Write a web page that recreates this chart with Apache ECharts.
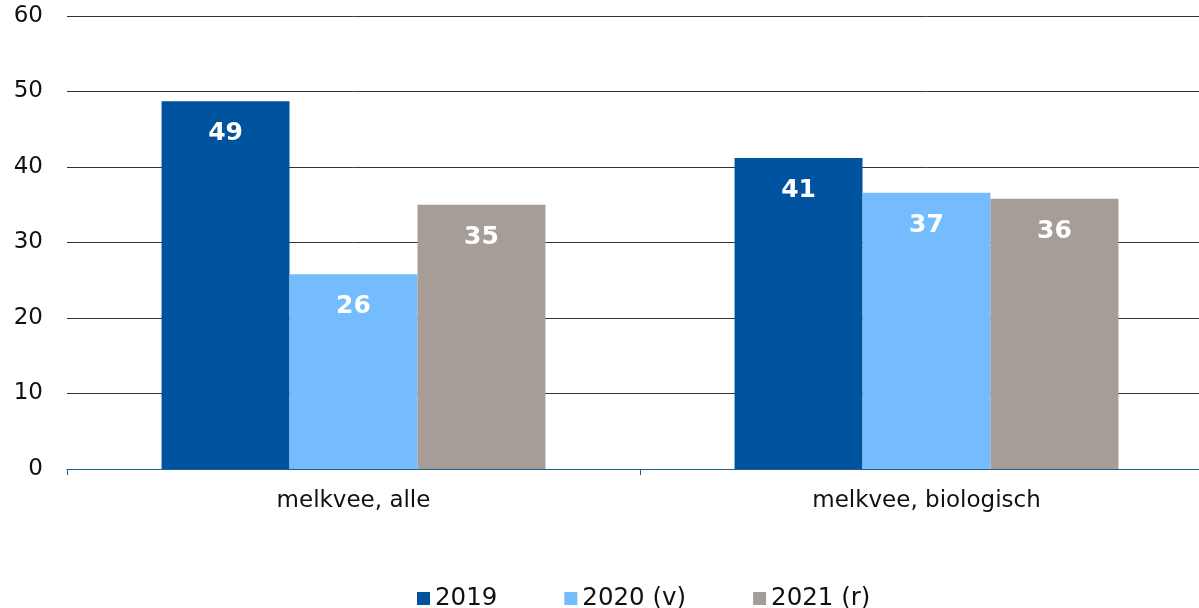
<!DOCTYPE html>
<html>
<head>
<meta charset="utf-8">
<script src="https://cdn.jsdelivr.net/npm/echarts@6/dist/echarts.min.js"></script>
<style>
  html, body { margin: 0; padding: 0; background: #fff; overflow: hidden; }
  /* plot area runs a little past the right edge of the window, as in the source */
  #chart { width: 1213px; height: 608px; }
</style>
</head>
<body>
<div id="chart"></div>
<script>
const categories = ['melkvee, alle', 'melkvee, biologisch']
const seriesNames = ['2019', '2020 (v)', '2021 (r)']
const values2019 = [48.7, 41.2]
const values2020 = [25.8, 36.6]
const values2021 = [35.0, 35.8]
const labels2019 = ['49', '41']
const labels2020 = ['26', '37']
const labels2021 = ['35', '36']
const colors = ['#00539f', '#74bcfd', '#a59d96']

const font = 'DejaVu Sans, Verdana, sans-serif'
const chart = echarts.init(document.getElementById('chart'))

function makeSeries(name, data, labels, color) {
  return {
    name: name,
    type: 'bar',
    data: data,
    barGap: '0%',
    barCategoryGap: '33%',
    itemStyle: { color: color },
    label: {
      show: true,
      position: 'insideTop',
      distance: 20,
      color: '#fff',
      fontFamily: font,
      fontWeight: 'bold',
      fontSize: 25,
      formatter: p => labels[p.dataIndex]
    }
  }
}

const option = {
  animation: false,
  textStyle: { fontFamily: font },
  grid: { left: 67, right: 0, top: 16, bottom: 139 },
  legend: {
    top: 581,
    left: 412,
    itemWidth: 13,
    itemHeight: 13,
    itemGap: 67,
    icon: 'rect',
    textStyle: { fontSize: 24.5, color: '#111', fontFamily: font }
  },
  xAxis: {
    type: 'category',
    data: categories,
    axisLine: { lineStyle: { color: '#1f5f8f', width: 1 } },
    axisTick: { show: true, length: 6, lineStyle: { color: '#1f5f8f' } },
    axisLabel: { fontSize: 23, color: '#111', margin: 21, fontFamily: font }
  },
  yAxis: {
    type: 'value',
    min: 0,
    max: 60,
    interval: 10,
    axisLine: { show: false },
    axisTick: { show: false },
    splitLine: { lineStyle: { color: '#333', width: 1 } },
    axisLabel: { fontSize: 23, color: '#111', margin: 24, fontFamily: font }
  },
  series: [
    makeSeries(seriesNames[0], values2019, labels2019, colors[0]),
    makeSeries(seriesNames[1], values2020, labels2020, colors[1]),
    makeSeries(seriesNames[2], values2021, labels2021, colors[2])
  ]
}

chart.setOption(option)
</script>
</body>
</html>
